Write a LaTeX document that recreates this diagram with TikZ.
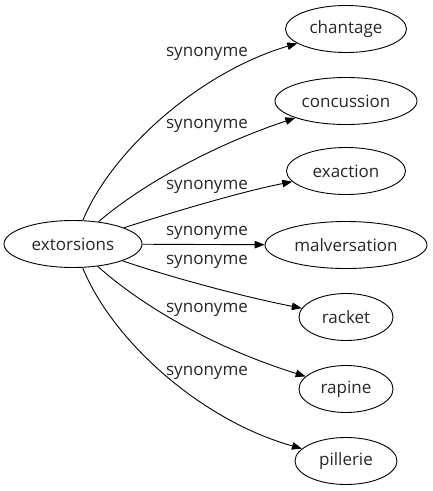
\documentclass[tikz,border=0pt]{standalone}
\usepackage{fontspec}
\setmainfont{Open Sans}
\usetikzlibrary{shapes.geometric,arrows.meta}
\begin{document}
\begin{tikzpicture}[x=1pt,y=-1pt,
  every node/.style={font=\fontsize{17}{20}\selectfont, text=black!85},
  wnode/.style={draw, ellipse, line width=0.9pt, inner sep=0pt, minimum height=47pt},
  edge/.style={draw, line width=0.9pt, -{Triangle[length=10pt,width=7.5pt]}},
  lbl/.style={inner sep=0pt}]
\useasboundingbox (0,0) rectangle (433,491);
\node[wnode, minimum width=138pt] (ext) at (73,244) {extorsions};
\node[wnode, minimum width=121pt] (n1) at (346,29) {chantage};
\node[wnode, minimum width=142pt] (n2) at (346,101) {concussion};
\node[wnode, minimum width=119pt] (n3) at (346,171) {exaction};
\node[wnode, minimum width=162pt] (n4) at (346,245) {malversation};
\node[wnode, minimum width=94pt] (n5) at (346,317) {racket};
\node[wnode, minimum width=94pt] (n6) at (346,389) {rapine};
\node[wnode, minimum width=102pt] (n7) at (346,461) {pillerie};
\path[edge] (ext) .. controls (112,150) and (200,72) .. (n1);
\path[edge] (ext) .. controls (135,190) and (205,148) .. (n2);
\path[edge] (ext) .. controls (170,213) and (240,192) .. (n3);
\path[edge] (ext) -- (n4);
\path[edge] (ext) .. controls (170,277) and (240,296) .. (n5);
\path[edge] (ext) .. controls (135,300) and (205,345) .. (n6);
\path[edge] (ext) .. controls (112,340) and (200,420) .. (n7);
\node[lbl] (l1) at (207,54) {synonyme};
\node[lbl] (l2) at (207,126) {synonyme};
\node[lbl] (l3) at (207,187) {synonyme};
\node[lbl] (l4) at (207,233) {synonyme};
\node[lbl] (l5) at (207,262) {synonyme};
\node[lbl] (l6) at (207,310) {synonyme};
\node[lbl] (l7) at (207,373) {synonyme};
\end{tikzpicture}
\end{document}
